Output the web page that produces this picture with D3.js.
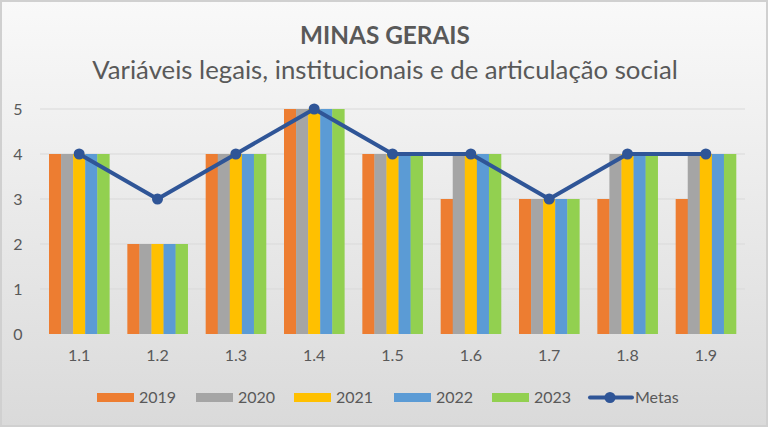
<!DOCTYPE html>
<html><head><meta charset="utf-8">
<script src="https://cdn.jsdelivr.net/npm/d3@7"></script>
<style>html,body{margin:0;padding:0;background:#fff;}svg{display:block;font-family:Lato,"Open Sans",sans-serif;}</style>
</head><body>
<svg id="c" width="768" height="427"></svg>
<script>
const categories = ["1.1","1.2","1.3","1.4","1.5","1.6","1.7","1.8","1.9"];
const seriesNames = ["2019","2020","2021","2022","2023"];
const v2019 = [4,2,4,5,4,3,3,3,3];
const v2020 = [4,2,4,5,4,4,3,4,4];
const v2021 = [4,2,4,5,4,4,3,4,4];
const v2022 = [4,2,4,5,4,4,3,4,4];
const v2023 = [4,2,4,5,4,4,3,4,4];
const metas = [4,3,4,5,4,4,3,4,4];
const yTicks = [0,1,2,3,4,5];
const colors = ["#ED7D31","#A5A5A5","#FFC000","#5B9BD5","#92D050"];
const metaColor = "#2F5597";
const series = [v2019,v2020,v2021,v2022,v2023];

const svg = d3.select("#c");
const W=768,H=427;
const defs = svg.append("defs");
const g = defs.append("linearGradient").attr("id","bg").attr("x1",0).attr("y1",0).attr("x2",0).attr("y2",1);
g.append("stop").attr("offset","0%").attr("stop-color","#f9f9f9");
g.append("stop").attr("offset","100%").attr("stop-color","#dadada");
svg.append("rect").attr("x",1).attr("y",1).attr("width",W-2).attr("height",H-2)
  .attr("fill","url(#bg)").attr("stroke","#d0d0d0").attr("stroke-width",2);

const m = {left:40,right:23,top:109,bottom:93};
const x0 = d3.scaleBand().domain(categories).range([m.left, W-m.right]).paddingInner(0.23).paddingOuter(0.115);
const x1 = d3.scaleBand().domain(seriesNames).range([0, x0.bandwidth()]);
const y = d3.scaleLinear().domain([0,5]).range([H-m.bottom, m.top]);

// gridlines
svg.append("g").selectAll("line").data(yTicks.filter(d=>d>0)).join("line")
  .attr("x1",m.left).attr("x2",W-m.right).attr("y1",d=>y(d)).attr("y2",d=>y(d))
  .attr("stroke","#d9d9d9").attr("stroke-width",1);

// y axis labels
const yAxis = d3.axisLeft(y).tickValues(yTicks).tickFormat(d3.format("d")).tickSize(0).tickPadding(0);
const ya = svg.append("g").attr("transform",`translate(${m.left-22},0)`).call(yAxis);
ya.select(".domain").remove();
ya.selectAll("text").attr("fill","#595959").style("font-size","16px").attr("text-anchor","middle").attr("font-family","Lato, sans-serif");

// bars
const cg = svg.append("g").selectAll("g").data(categories).join("g")
  .attr("transform",d=>`translate(${x0(d)},0)`);
cg.selectAll("rect").data((d,i)=>series.map((s,j)=>({k:seriesNames[j],v:s[i],c:colors[j]}))).join("rect")
  .attr("x",d=>x1(d.k)).attr("width",x1.bandwidth()+0.3)
  .attr("y",d=>y(d.v)).attr("height",d=>y(0)-y(d.v)).attr("fill",d=>d.c);

// x axis labels
const xAxis = d3.axisBottom(x0).tickSize(0).tickPadding(0);
const xa = svg.append("g").attr("transform",`translate(0,${H-m.bottom+16})`).call(xAxis);
xa.select(".domain").remove();
xa.selectAll("text").attr("fill","#595959").style("font-size","16px").attr("font-family","Lato, sans-serif");

// metas line
const line = d3.line().x((d,i)=>x0(categories[i])+x0.bandwidth()/2).y(d=>y(d));
svg.append("path").datum(metas).attr("d",line).attr("fill","none").attr("stroke",metaColor).attr("stroke-width",4).attr("stroke-linejoin","round");
svg.append("g").selectAll("circle").data(metas).join("circle")
  .attr("cx",(d,i)=>x0(categories[i])+x0.bandwidth()/2).attr("cy",d=>y(d)).attr("r",5.5).attr("fill",metaColor);

// titles
function fit(sel, target){ const l = sel.node().getComputedTextLength(); const fs = parseFloat(sel.style("font-size")); sel.style("font-size",(fs*target/l)+"px"); }
const t1 = svg.append("text").attr("x",385).attr("y",44).attr("text-anchor","middle").attr("fill","#595959")
  .style("font-size","22px").style("font-weight","bold").text("MINAS GERAIS");
fit(t1,170);
const t2 = svg.append("text").attr("x",385).attr("y",79).attr("text-anchor","middle").attr("fill","#595959")
  .style("font-size","24px").text("Variáveis legais, institucionais e de articulação social");
fit(t2,586);

// legend
const legItems = seriesNames.map((n,i)=>({n,c:colors[i]}));
const lg = svg.append("g");
const lx = [97,196,294,394,492];
legItems.forEach((d,i)=>{
  lg.append("rect").attr("x",lx[i]).attr("y",393).attr("width",37).attr("height",9).attr("fill",d.c);
  lg.append("text").attr("x",lx[i]+42).attr("y",403).attr("fill","#595959").style("font-size","16px").text(d.n);
});
lg.append("line").attr("x1",590).attr("x2",632).attr("y1",397.5).attr("y2",397.5).attr("stroke",metaColor).attr("stroke-width",4).attr("stroke-linecap","round");
lg.append("circle").attr("cx",610).attr("cy",397.5).attr("r",5.5).attr("fill",metaColor);
lg.append("text").attr("x",635).attr("y",403).attr("fill","#595959").style("font-size","16px").text("Metas");
</script>
</body></html>
